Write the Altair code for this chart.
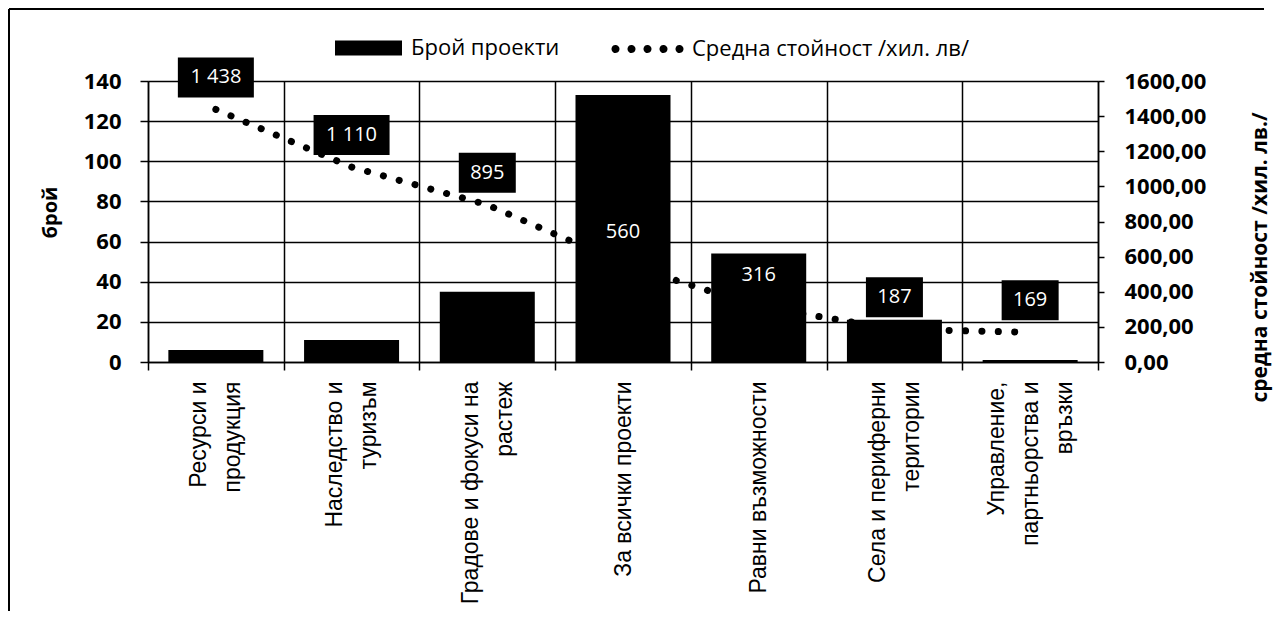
import altair as alt
import pandas as pd

# ---- data ----
categories = [
    "Ресурси и|продукция",
    "Наследство и|туризъм",
    "Градове и фокуси на|растеж",
    "За всички проекти",
    "Равни възможности",
    "Села и периферни|територии",
    "Управление,|партньорства и|връзки",
]
project_counts = [6, 11, 35, 133, 54, 21, 1]
avg_values = [1438, 1110, 895, 560, 316, 187, 169]
series_bar = "Брой проекти"
series_line = "Средна стойност /хил. лв/"
left_ticks = [0, 20, 40, 60, 80, 100, 120, 140]
right_ticks = [0, 200, 400, 600, 800, 1000, 1200, 1400, 1600]
left_title = "брой"
right_title = "средна стойност /хил. лв./"

df = pd.DataFrame({
    "cat": categories,
    "count": project_counts,
    "avg": avg_values,
    "s_bar": series_bar,
    "s_line": series_line,
})

W, H = 950, 281
FONT = "Open Sans"
CAT_FONT = "Liberation Sans"
LINE_H = 34

n_lines = "length(split(datum.value, '|'))"
label_offset = {
    "condition": [
        {"test": f"{n_lines} == 3", "value": -LINE_H},
        {"test": f"{n_lines} == 2", "value": -LINE_H / 2},
    ],
    "value": 0,
}

x_enc = alt.X(
    "cat:N", sort=None,
    scale=alt.Scale(paddingInner=0, paddingOuter=0),
    axis=alt.Axis(
        title=None, labelAngle=270, labelExpr="split(datum.label, '|')",
        labelFont=CAT_FONT, labelFontSize=23, labelLineHeight=LINE_H, labelLimit=400,
        labelColor="black", labelPadding=11, labelOffset=label_offset,
        tickBand="extent", tickSize=8,
        tickColor="black", tickWidth=1.5, domainColor="black", domainWidth=1.5,
        grid=True, gridColor="black", gridWidth=1.5, gridOpacity=1,
    ),
)

y_left_scale = alt.Scale(domain=[0, 140], nice=False)
y_right_scale = alt.Scale(domain=[0, 1600], nice=False)

rect_path = "M-3.35,-0.75H3.35V0.75H-3.35Z"
dots_path = "".join(
    f"M{cx - 0.2:.2f},0A0.2,0.2,0,1,0,{cx + 0.2:.2f},0A0.2,0.2,0,1,0,{cx - 0.2:.2f},0Z"
    for cx in [-3.2, -1.6, 0.0, 1.6, 3.2]
)

line = alt.Chart(df).mark_line(
    strokeWidth=7, strokeCap="round", strokeDash=[0.1, 16.3]
).encode(
    x=x_enc,
    y=alt.Y("avg:Q", scale=y_right_scale, axis=alt.Axis(
        orient="right", values=right_ticks,
        labelExpr="replace(format(datum.value, '.2f'), '.', ',')",
        labelFont=FONT, labelFontSize=22, labelFontWeight="bold", labelColor="black",
        tickSize=6, tickColor="black", tickWidth=1.5, labelPadding=20,
        domainColor="black", domainWidth=1.5, grid=False,
        title=right_title, titleFont=FONT, titleFontSize=21, titleFontWeight="bold",
        titleColor="black", titleAngle=270, titleBaseline="middle", titleAlign="center",
        titleX=162, titleY=176,
    )),
    stroke=alt.Stroke("s_line:N", scale=alt.Scale(range=["black"]), legend=alt.Legend(
        orient="none", legendX=487.5, legendY=-44, title=None,
        symbolType=dots_path, symbolSize=400, symbolStrokeWidth=4,
        symbolFillColor="black", symbolStrokeColor="black", symbolDash=[1, 0],
        labelFont=FONT, labelFontSize=22, labelColor="black", labelOffset=32.5,
        labelLimit=500, padding=0,
    )),
)

bars = alt.Chart(df).mark_bar(width=alt.RelativeBandSize(0.7)).encode(
    x=x_enc,
    y=alt.Y("count:Q", scale=y_left_scale, axis=alt.Axis(
        orient="left", values=left_ticks,
        labelFont=FONT, labelFontSize=22, labelFontWeight="bold", labelColor="black",
        tickSize=8, tickColor="black", tickWidth=1.5, labelPadding=19,
        domainColor="black", domainWidth=1.5,
        grid=True, gridColor="black", gridWidth=1.5, gridOpacity=1,
        title=left_title, titleFont=FONT, titleFontSize=20, titleFontWeight="bold",
        titleColor="black", titleAngle=270, titleBaseline="middle", titleAlign="center",
        titleX=-98, titleY=131,
    )),
    fill=alt.Fill("s_bar:N", scale=alt.Scale(range=["black"]), legend=alt.Legend(
        orient="none", legendX=209.5, legendY=-44, title=None,
        symbolType=rect_path, symbolSize=400, symbolStrokeWidth=0,
        labelFont=FONT, labelFontSize=22, labelColor="black", labelOffset=31.5,
        labelLimit=500, padding=0,
    )),
)

label_base = alt.Chart(df).transform_calculate(
    label="replace(format(datum.avg, ','), ',', ' ')",
    kind="length(replace(format(datum.avg, ','), ',', ' ')) > 3 ? 'long' : 'short'",
)
box_long = "M-1,-0.526H1V0.526H-1Z"
box_short = "M-0.75,-0.526H0.75V0.526H-0.75Z"
boxes = label_base.mark_point(
    filled=True, opacity=1, color="black", strokeWidth=0, size=5776, yOffset=-32
).encode(
    x=x_enc,
    y=alt.Y("avg:Q", scale=y_right_scale, axis=None),
    shape=alt.Shape("kind:N", scale=alt.Scale(domain=["long", "short"], range=[box_long, box_short]), legend=None),
)
texts = label_base.mark_text(
    dy=-32, color="white", font=FONT, fontSize=20, baseline="middle"
).encode(
    x=x_enc,
    y=alt.Y("avg:Q", scale=y_right_scale, axis=None),
    text="label:N",
)
labels = alt.layer(boxes, texts)

frame_df = pd.DataFrame({"a": [0]})
frame_left = alt.Chart(frame_df).mark_rule(color="black", strokeWidth=2).encode(
    x=alt.value(-139), y=alt.value(-72), y2=alt.value(530)
)
frame_top = alt.Chart(frame_df).mark_rule(color="black", strokeWidth=2).encode(
    x=alt.value(-139), x2=alt.value(1116), y=alt.value(-72)
)

chart = alt.layer(line, bars, labels, frame_left, frame_top).resolve_scale(
    y="independent", fill="independent", stroke="independent"
).properties(
    width=W, height=H, padding={"left": 0, "top": 0, "right": 5, "bottom": 0},
    background="white",
).configure_view(stroke=None)

chart.save("out.html", embed_options={"renderer": "svg", "actions": False})
